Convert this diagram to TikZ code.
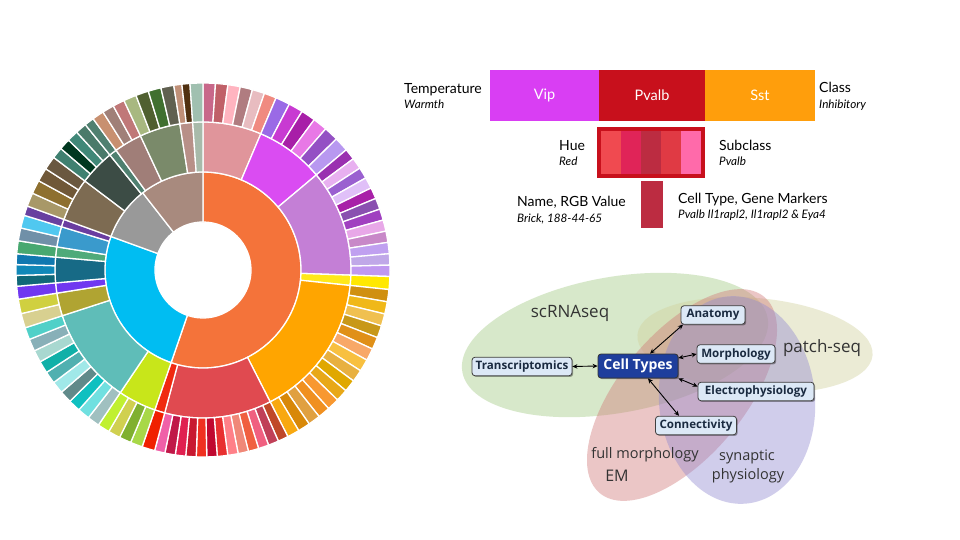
\documentclass[tikz,border=0pt]{standalone}
\usepackage{fontspec}
\setmainfont{Lato}
\newfontfamily\osans{Open Sans}
\usetikzlibrary{arrows.meta,shadows}

\definecolor{vipc}{HTML}{D93EF3}
\definecolor{pvc}{HTML}{C8101C}
\definecolor{sstc}{HTML}{FF9E0C}
\definecolor{brick}{HTML}{BC2C41}
\definecolor{vgreen}{HTML}{A1C981}
\definecolor{vyellow}{HTML}{D1D19B}
\definecolor{vpink}{HTML}{D07878}
\definecolor{vpurple}{HTML}{9189D1}
\definecolor{boxblue}{HTML}{DCE8F6}
\definecolor{navytext}{HTML}{1A2A40}
\definecolor{ctblue}{HTML}{1E3E9C}
\definecolor{vtext}{HTML}{333333}

\newcommand\seg[5]{%
  \edef\segtmp{\noexpand\definecolor{segc}{HTML}{#5}}\segtmp
  \filldraw[fill=segc,draw=white,line width=1.3pt,line join=round]
    ({90-(#1)}:#3pt) arc[start angle={90-(#1)},end angle={90-(#2)},radius=#3pt]
    -- ({90-(#2)}:#4pt) arc[start angle={90-(#2)},end angle={90-(#1)},radius=#4pt] -- cycle;}

\newcommand\kids[3]{%
  \foreach \kc [count=\ki] in {#3}{\xdef\kn{\ki}}%
  \foreach \kc [count=\ki] in {#3}{%
    \pgfmathsetmacro\sa{(#1)+(\ki-1)*((#2)-(#1))/\kn}%
    \pgfmathsetmacro\ea{(#1)+\ki*((#2)-(#1))/\kn}%
    \seg{\sa}{\ea}{148}{187}{\kc}}}

\tikzset{
  lgtitle/.style={anchor=base west,font=\fontsize{14}{16}\selectfont,inner sep=0pt,text=black},
  lgsub/.style={anchor=base west,font=\fontsize{11.7}{13}\selectfont\itshape,inner sep=0pt,text=black},
  classbox/.style={minimum height=51pt,inner sep=0pt,text=white,font=\fontsize{14.5}{16}\selectfont},
  vnode/.style={draw=black!75,line width=0.8pt,rounded corners=3pt,fill=boxblue,text=navytext,
    font=\osans\bfseries\fontsize{11.6}{13}\selectfont,inner sep=0pt,minimum height=18.5pt,
    drop shadow={shadow xshift=1.2pt,shadow yshift=-1.2pt,opacity=0.35,fill=black}},
  ctnode/.style={draw=black!80,line width=0.8pt,rounded corners=3pt,fill=ctblue,text=white,
    font=\osans\bfseries\fontsize{14}{16}\selectfont,inner sep=0pt,minimum height=24pt,minimum width=80pt,
    drop shadow={shadow xshift=1.2pt,shadow yshift=-1.2pt,opacity=0.35,fill=black}},
  vlabel/.style={text=vtext,font=\osans\fontsize{17}{19}\selectfont,inner sep=0pt},
  vlabelsm/.style={text=vtext,font=\osans\fontsize{14.5}{16}\selectfont,inner sep=0pt},
  link/.style={{Stealth[length=5pt,width=4.5pt]}-{Stealth[length=5pt,width=4.5pt]},line width=0.9pt,black},
  venn/.style={fill opacity=0.42}
}

\begin{document}
\begin{tikzpicture}[x=1pt,y=-1pt]
\fill[white] (0,0) rectangle (960,540);
\useasboundingbox (0,0) rectangle (960,540);

% ---------------- sunburst ----------------
\begin{scope}[shift={(203,270)}]
  % inner ring
  \foreach \a/\b/\c in {0/199/F4733A,199/290/00BDF2,290/322/999999,322/360/A88A7E}
    {\seg{\a}{\b}{48}{98}{\c}}
  % middle ring
  \foreach \a/\b/\c in {0/23/E0959B,23/50/DA4CF2,50/92/C47FD6,92/96/FFE81A,96/153/FFA500,
      153/195/E04A50,195/199/F02A10,199/214/C8E61A,214/252/5FBDB8,252/261/B0A432,
      261/265/7038F0,265/275/176A86,275/279/4FAA7A,279/287/3A9ACC,287/290/6A3DA0,
      290/307/7D6B52,307/321/3C4C45,321/324/4F8070,324/335/A07E78,335/351/7A8A6A,
      351/356/B89088,356/360/A8BAAA}
    {\seg{\a}{\b}{98}{148}{\c}}
  % outer ring
  \kids{0}{23}{C8688A,C06068,FFB4C0,B07C80,E8BCC0,F08A80}
  \kids{23}{50}{9A6AE6,C83AD2,A81EA8,E878E6,9450C4,B898F0}
  \kids{50}{92}{9A30B0,E8B0F0,9A60D0,E0C0F8,A820A8,8A50B0,A040C0,E8A8E8,C888C8,C0A0F0,C0A8E8,C098F0}
  \kids{92}{96}{FFE800}
  \kids{96}{153}{D09010,F0B818,F0C050,C89818,E09018,F8A868,F8C040,E8B040,E0A800,E8A818,F89830,F09020,E0A040,D88808,F8A810}
  \kids{153}{195}{C04828,C04058,F06080,F06040,F08878,FF8088,E83030,C00830,F03020,C81830,E02050,C01848,F060A8}
  \kids{195}{199}{F02000}
  \kids{199}{214}{A8D848,80B030,D0D050,C0F030}
  \kids{214}{252}{A0C0C0,70E0E0,10C0C0,608A8A,A0E8E8,50B0B0,10B0A8,A8D8D0,88B0B8,50D0C8}
  \kids{252}{261}{D8D090,D0D040}
  \kids{261}{265}{7038F0}
  \kids{265}{275}{106878,1088B8,1078B0}
  \kids{275}{279}{48A870}
  \kids{279}{287}{7090A8,50C8F0}
  \kids{287}{290}{6840A0}
  \kids{290}{307}{A89868,8E7030,705838,6A5840}
  \kids{307}{321}{3F8070,003820,408878,4A7A6A}
  \kids{321}{324}{508070}
  \kids{324}{335}{C89070,A08078,C07878}
  \kids{335}{351}{A8B880,506030,407030,606050}
  \kids{351}{356}{C09078,503010}
  \kids{356}{360}{A0C0B0}
\end{scope}

% ---------------- legend ----------------
\node[classbox,fill=vipc,minimum width=109pt] (vip) at (544.5,95.5) {Vip};
\node[classbox,fill=pvc,minimum width=106pt] (pv) at (652,95.5) {Pvalb};
\node[classbox,fill=sstc,minimum width=110pt] (sst) at (760,95.5) {Sst};

\fill[fill={rgb,255:red,240;green,74;blue,80}] (601,131) rectangle (621,174);
\fill[fill={rgb,255:red,224;green,36;blue,88}] (621,131) rectangle (641,174);
\fill[brick] (641,131) rectangle (661,174);
\fill[fill={rgb,255:red,224;green,58;blue,68}] (661,131) rectangle (681,174);
\fill[fill={rgb,255:red,255;green,106;blue,170}] (681,131) rectangle (701,174);
\node[draw=pvc,line width=4pt,minimum width=104pt,minimum height=47pt,inner sep=0pt] (sub) at (651,152.5) {};
\node[fill=brick,minimum width=22pt,minimum height=47pt,inner sep=0pt] (bar) at (652,204.5) {};

\node[lgtitle] (temp) at (404,94) {Temperature};
\node[lgsub] (warm) at (404,108.5) {Warmth};
\node[lgtitle] (cls) at (819,93) {Class};
\node[lgsub] (inh) at (819,108.5) {Inhibitory};
\node[lgtitle] (hue) at (559,150.5) {Hue};
\node[lgsub] (red) at (559,165.5) {Red};
\node[lgtitle] (scl) at (719,150.5) {Subclass};
\node[lgsub] (pvs) at (719,165.5) {Pvalb};
\node[lgtitle] (nrgb) at (517,206.5) {Name, RGB Value};
\node[lgsub] (brk) at (517,222) {Brick, 188-44-65};
\node[lgtitle] (ctgm) at (678,203.3) {Cell Type, Gene Markers};
\node[lgsub] (gm) at (678,218.5) {Pvalb Il1rapl2, Il1rapl2 \& Eya4};

% ---------------- venn ----------------
\begin{scope}[shift={(615,345)},rotate=10]
  \fill[vgreen,venn] (0,0) ellipse[x radius=155pt,y radius=68pt];
\end{scope}
\begin{scope}[shift={(755,345)},rotate=-5]
  \fill[vyellow,venn] (0,0) ellipse[x radius=118pt,y radius=47pt];
\end{scope}
\begin{scope}[shift={(682,395)},rotate=50]
  \fill[vpink,venn] (0,0) ellipse[x radius=128pt,y radius=62pt];
\end{scope}
\begin{scope}[shift={(737,400)},rotate=95]
  \fill[vpurple,venn] (0,0) ellipse[x radius=104pt,y radius=78pt];
\end{scope}

\node[vlabel] (lsc) at (570,313) {scRNAseq};
\node[vlabel] (lps) at (822,348) {patch-seq};
\node[vlabelsm] (lfm) at (645,455) {full morphology};
\node[vlabelsm,font=\osans\fontsize{16}{18}\selectfont] (lem) at (617,476) {EM};
\node[vlabelsm] (lsy) at (747,457) {synaptic};
\node[vlabelsm] (lph) at (748,476) {physiology};

\node[vnode,minimum width=100pt] (tr) at (522,366.5) {Transcriptomics};
\node[ctnode] (ct) at (638,366) {Cell Types};
\node[vnode,minimum width=64pt] (an) at (713,315) {Anatomy};
\node[vnode,minimum width=78pt] (mo) at (736,354) {Morphology};
\node[vnode,minimum width=116pt] (el) at (756,391.5) {Electrophysiology};
\node[vnode,minimum width=81pt] (co) at (696,425.5) {Connectivity};

\draw[link] (tr.east) -- (ct.west);
\draw[link] ([xshift=12pt]ct.north) -- ([xshift=-30pt]an.south);
\draw[link] ([yshift=8pt]ct.east) -- (mo.west);
\draw[link] (ct.south east) -- ([yshift=5pt]el.west);
\draw[link] ([xshift=10pt]ct.south) -- ([xshift=-17pt]co.north);
\end{tikzpicture}
\end{document}
